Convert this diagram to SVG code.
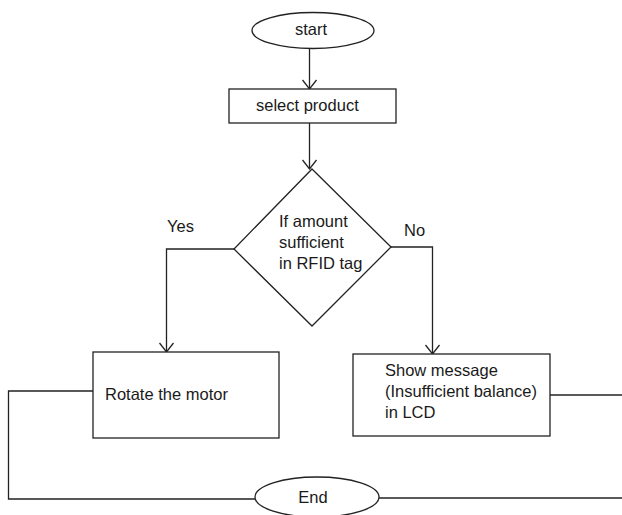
<svg xmlns="http://www.w3.org/2000/svg" width="622" height="515" viewBox="0 0 622 515">
<defs>
<style>
.s{fill:#fff;stroke:#222;stroke-width:1.3}
.c{fill:none;stroke:#222;stroke-width:1.3}
.t{font-family:"Liberation Sans",Arial,sans-serif;font-size:16.5px;fill:#1a1a1a}
</style>
<marker id="a" viewBox="-10 -8 12 16" markerWidth="12" markerHeight="16" refX="0" refY="0" orient="auto" markerUnits="userSpaceOnUse">
<path d="M-9,-7 L0,0 L-9,7" fill="none" stroke="#222" stroke-width="1.3"/>
</marker>
</defs>
<rect width="622" height="515" fill="#fff"/>
<g id="connectors">
<path class="c" d="M309.5,49 V89" marker-end="url(#a)"/>
<path class="c" d="M309.5,123 V169" marker-end="url(#a)"/>
<path class="c" d="M234,249 H166.5 V352" marker-end="url(#a)"/>
<path class="c" d="M391,247 H432.5 V354" marker-end="url(#a)"/>
<path class="c" d="M93,391 H8.5 V499 H255"/>
<path class="c" d="M550,395 H622"/>
<path class="c" d="M379,498 H622"/>
</g>
<g id="start">
<ellipse class="s" cx="313" cy="30.5" rx="61" ry="18"/>
<text class="t" x="311" y="35" text-anchor="middle">start</text>
</g>
<g id="select">
<rect class="s" x="229" y="89" width="167" height="34"/>
<text class="t" x="256" y="111">select product</text>
</g>
<g id="decision">
<polygon class="s" points="312,169 391,247 312,326 234,249"/>
<text class="t" x="279" y="227">If amount</text>
<text class="t" x="279" y="248">sufficient</text>
<text class="t" x="279" y="269">in RFID tag</text>
</g>
<g id="labels">
<text class="t" x="167" y="232">Yes</text>
<text class="t" x="404" y="236">No</text>
</g>
<g id="rotate">
<rect class="s" x="93" y="352" width="186" height="86"/>
<text class="t" x="105" y="400">Rotate the motor</text>
</g>
<g id="message">
<rect class="s" x="353" y="354" width="197" height="82"/>
<text class="t" x="385" y="376">Show message</text>
<text class="t" x="385" y="397">(Insufficient balance)</text>
<text class="t" x="385" y="418">in LCD</text>
</g>
<g id="end">
<ellipse class="s" cx="317" cy="497" rx="62" ry="20"/>
<text class="t" x="313" y="503" text-anchor="middle">End</text>
</g>
</svg>
